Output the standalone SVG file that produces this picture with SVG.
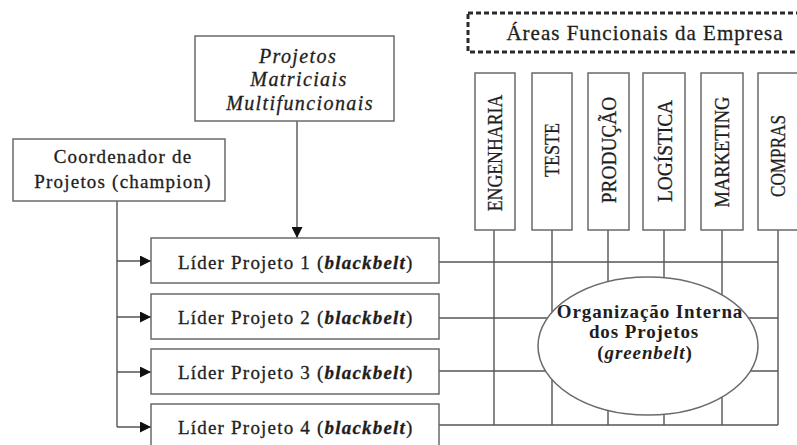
<svg xmlns="http://www.w3.org/2000/svg" width="797" height="445" viewBox="0 0 797 445">
<style>
.box{fill:#fff;stroke:#6a6a6a;stroke-width:1.5}
.ln{stroke:#555;stroke-width:1.4;fill:none}
text{fill:#1e1e1e;stroke:#1e1e1e;stroke-width:0.3;font-family:"Liberation Serif","Times New Roman",serif}
.c{text-anchor:middle}
.v{font-size:22px;text-anchor:middle}
.l{font-size:19px;letter-spacing:1.2px}
.o{font-size:19px;font-weight:bold;letter-spacing:0.9px;text-anchor:middle;stroke-width:0}
.i{font-size:20px;font-style:italic;letter-spacing:1.4px;text-anchor:middle}
.k{font-size:19px;letter-spacing:1.2px;text-anchor:middle}
</style>
<defs>
<marker id="ah" viewBox="0 0 10 10" refX="10" refY="5" markerWidth="14" markerHeight="11" markerUnits="userSpaceOnUse" orient="auto">
<path d="M0,0 L10,5 L0,10 Z" fill="#111"/>
</marker>
</defs>
<rect width="797" height="445" fill="#fff"/>

<g id="connectors">
<path class="ln" d="M117,201 V427"/>
<path class="ln" d="M117,261 H151" marker-end="url(#ah)"/>
<path class="ln" d="M117,317 H151" marker-end="url(#ah)"/>
<path class="ln" d="M117,372 H151" marker-end="url(#ah)"/>
<path class="ln" d="M117,427 H151" marker-end="url(#ah)"/>
<path class="ln" d="M297,121 V238" marker-end="url(#ah)"/>
<path class="ln" d="M439,262 H778 M439,318 H778 M439,371 H778 M439,425 H778"/>
<path class="ln" d="M494,230 V425 M552,230 V425 M608,230 V425 M664,230 V425 M722,230 V425 M778,230 V425"/>
</g>

<g id="areas">
<rect x="468" y="13" width="340" height="39" fill="#fff" stroke="#2a2a2a" stroke-width="3" stroke-dasharray="5,3"/>
<text x="645" y="40" class="c" font-size="21" letter-spacing="1">Áreas Funcionais da Empresa</text>
</g>

<g id="engenharia"><rect class="box" x="475" y="73" width="40" height="157"/><text class="v" transform="translate(502,153) rotate(-90) scale(0.81,1)">ENGENHARIA</text></g>
<g id="teste"><rect class="box" x="532" y="73" width="40" height="157"/><text class="v" transform="translate(559,150) rotate(-90) scale(0.82,1)">TESTE</text></g>
<g id="producao"><rect class="box" x="588" y="73" width="41" height="157"/><text class="v" transform="translate(616,150) rotate(-90) scale(0.88,1)">PRODUÇÃO</text></g>
<g id="logistica"><rect class="box" x="643" y="73" width="42" height="157"/><text class="v" transform="translate(672,151) rotate(-90) scale(0.88,1)">LOGÍSTICA</text></g>
<g id="marketing"><rect class="box" x="701" y="73" width="42" height="157"/><text class="v" transform="translate(729,152) rotate(-90) scale(0.84,1)">MARKETING</text></g>
<g id="compras"><rect class="box" x="758" y="73" width="50" height="157"/><text class="v" transform="translate(785,156) rotate(-90) scale(0.78,1)">COMPRAS</text></g>

<g id="projetos-matriciais">
<rect class="box" x="195" y="36" width="199" height="85"/>
<text x="298" y="63" class="i">Projetos</text>
<text x="299" y="86" class="i">Matriciais</text>
<text x="300" y="110" class="i">Multifuncionais</text>
</g>

<g id="coordenador">
<rect class="box" x="13" y="139" width="212" height="62"/>
<text x="123" y="163" class="k">Coordenador de</text>
<text x="123" y="188" class="k">Projetos (champion)</text>
</g>

<g id="lider1"><rect class="box" x="151" y="238" width="288" height="45"/><text class="l" x="178" y="269">Líder Projeto 1 (<tspan font-weight="bold" font-style="italic">blackbelt</tspan>)</text></g>
<g id="lider2"><rect class="box" x="151" y="294" width="288" height="45"/><text class="l" x="178" y="324">Líder Projeto 2 (<tspan font-weight="bold" font-style="italic">blackbelt</tspan>)</text></g>
<g id="lider3"><rect class="box" x="151" y="349" width="288" height="45"/><text class="l" x="178" y="379">Líder Projeto 3 (<tspan font-weight="bold" font-style="italic">blackbelt</tspan>)</text></g>
<g id="lider4"><rect class="box" x="151" y="404" width="288" height="46"/><text class="l" x="178" y="434">Líder Projeto 4 (<tspan font-weight="bold" font-style="italic">blackbelt</tspan>)</text></g>

<g id="organizacao">
<ellipse cx="648" cy="346" rx="110" ry="69" fill="#fff" stroke="#6a6a6a" stroke-width="1.5"/>
<text x="650" y="318" class="o">Organização Interna</text>
<text x="644" y="338" class="o">dos Projetos</text>
<text x="645" y="359" class="o">(<tspan font-style="italic">greenbelt</tspan>)</text>
</g>
</svg>
